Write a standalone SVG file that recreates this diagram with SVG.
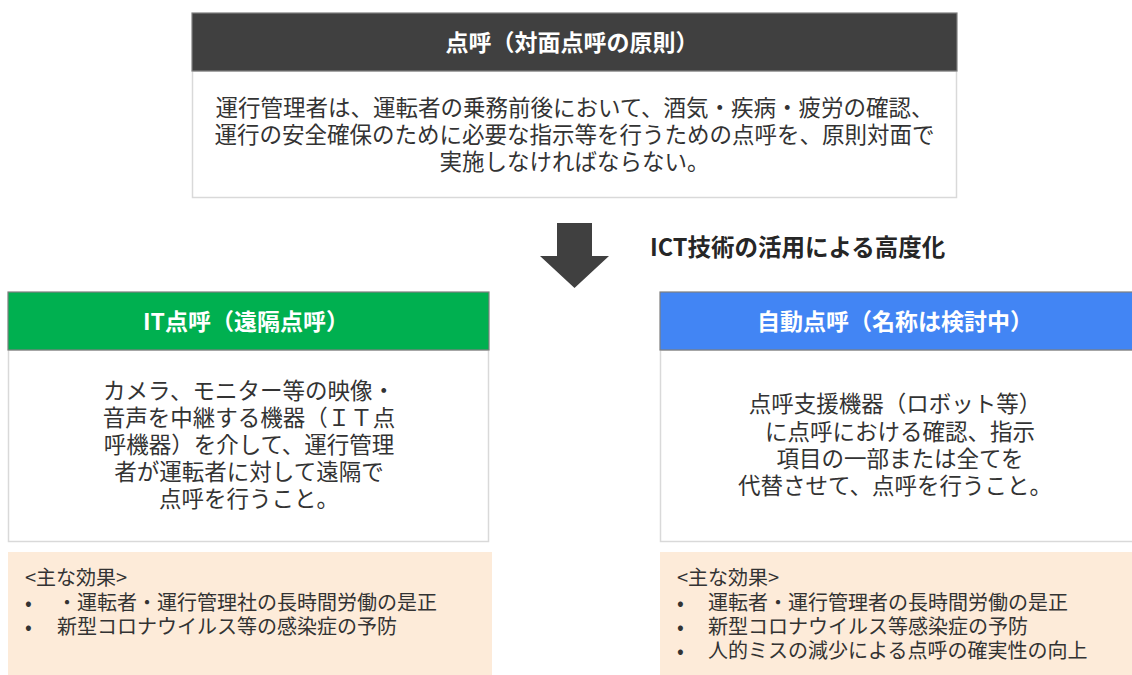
<svg xmlns="http://www.w3.org/2000/svg" width="1132" height="675" viewBox="0 0 1132 675">
<style>
.t{font-family:"Noto Sans CJK JP","Noto Sans",sans-serif;}
.hd{font-size:23px;font-weight:bold;fill:#ffffff;text-anchor:middle;}
.bd{font-size:22.5px;fill:#333333;text-anchor:middle;}
.bx{fill:#ffffff;stroke:#d9d9d9;stroke-width:1.5;}
.hb{stroke:#7f7f7f;stroke-width:1.2;}
.ef{fill:#fdebd9;}
.et{font-size:20px;fill:#333333;}
</style>
<rect width="1132" height="675" fill="#ffffff"/>
<g id="top">
<rect class="bx" x="192.5" y="71" width="764" height="126.5"/>
<rect class="hb" x="192" y="13" width="765" height="58" fill="#404040"/>
<text class="t hd" x="572" y="50.5" font-size="23.5">点呼（対面点呼の原則）</text>
<text class="t bd" x="574.5" y="115.5">運行管理者は、運転者の乗務前後において、酒気・疾病・疲労の確認、</text>
<text class="t bd" x="574.5" y="142.5">運行の安全確保のために必要な指示等を行うための点呼を、原則対面で</text>
<text class="t bd" x="574.5" y="169.5">実施しなければならない。</text>
</g>
<g id="connectors">
<polygon points="557,223 592,223 592,256 609,256 574.5,288 540,256 557,256" fill="#404040"/>
<text class="t" x="650" y="255.5" font-size="23.5" font-weight="bold" fill="#262626">ICT技術の活用による高度化</text>
</g>
<g id="it">
<rect class="bx" x="8.5" y="350" width="480" height="191.5"/>
<rect class="hb" x="8" y="292" width="481" height="58" fill="#00b050"/>
<text class="t hd" x="246" y="329.5">IT点呼（遠隔点呼）</text>
<text class="t bd" x="249" y="398.5">カメラ、モニター等の映像・</text>
<text class="t bd" x="249" y="425.5">音声を中継する機器（ＩＴ点</text>
<text class="t bd" x="249" y="452.5">呼機器）を介して、運行管理</text>
<text class="t bd" x="249" y="479.5">者が運転者に対して遠隔で</text>
<text class="t bd" x="249" y="506.5">点呼を行うこと。</text>
</g>
<g id="it-effects">
<rect class="ef" x="8" y="552" width="484" height="123"/>
<text class="t et"><tspan x="25" y="585">&lt;主な効果&gt;</tspan><tspan x="25" y="610">•</tspan><tspan x="57" y="610">・運転者・運行管理社の長時間労働の是正</tspan><tspan x="25" y="634">•</tspan><tspan x="57" y="634">新型コロナウイルス等の感染症の予防</tspan></text>
</g>
<g id="auto">
<rect class="bx" x="660.5" y="350" width="480" height="191.5"/>
<rect class="hb" x="660" y="292" width="481" height="58" fill="#4285f4"/>
<text class="t hd" x="895" y="329.5">自動点呼（名称は検討中）</text>
<text class="t bd" x="895" y="411.5">点呼支援機器（ロボット等）</text>
<text class="t bd" x="900" y="439.5">に点呼における確認、指示</text>
<text class="t bd" x="900" y="466.5">項目の一部または全てを</text>
<text class="t bd" x="895" y="493.5">代替させて、点呼を行うこと。</text>
</g>
<g id="auto-effects">
<rect class="ef" x="660" y="552" width="472" height="123"/>
<text class="t et"><tspan x="677" y="585">&lt;主な効果&gt;</tspan><tspan x="677" y="610">•</tspan><tspan x="708" y="610">運転者・運行管理者の長時間労働の是正</tspan><tspan x="677" y="634">•</tspan><tspan x="708" y="634">新型コロナウイルス等感染症の予防</tspan><tspan x="677" y="658">•</tspan><tspan x="708" y="658">人的ミスの減少による点呼の確実性の向上</tspan></text>
</g>
</svg>
